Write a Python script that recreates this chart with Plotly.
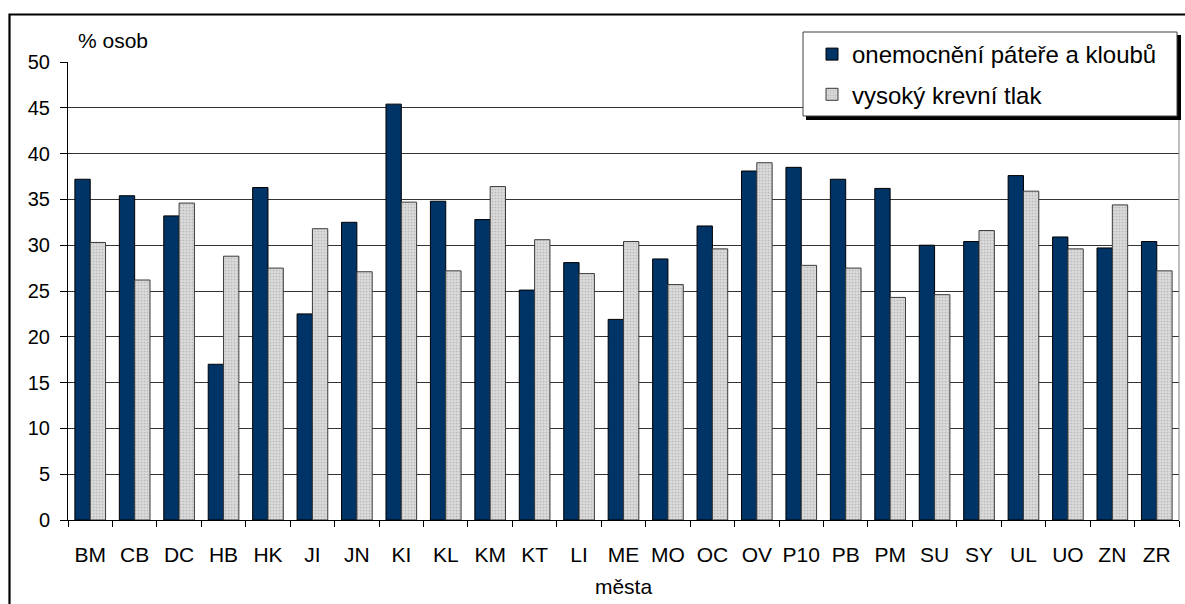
import plotly.graph_objects as go

# Cities (x categories)
mesta = ["BM", "CB", "DC", "HB", "HK", "JI", "JN", "KI", "KL", "KM", "KT", "LI", "ME",
         "MO", "OC", "OV", "P10", "PB", "PM", "SU", "SY", "UL", "UO", "ZN", "ZR"]

# Share of persons (%) by diagnosis
patere_klouby = [37.2, 35.4, 33.2, 17.0, 36.3, 22.5, 32.5, 45.4, 34.8, 32.8, 25.1, 28.1, 21.9,
                 28.5, 32.1, 38.1, 38.5, 37.2, 36.2, 30.0, 30.4, 37.6, 30.9, 29.7, 30.4]
krevni_tlak = [30.3, 26.2, 34.6, 28.8, 27.5, 31.8, 27.1, 34.7, 27.2, 36.4, 30.6, 26.9, 30.4,
               25.7, 29.6, 39.0, 27.8, 27.5, 24.3, 24.6, 31.6, 35.9, 29.6, 34.4, 27.2]

y_ticks = [0, 5, 10, 15, 20, 25, 30, 35, 40, 45, 50]

FONT = "Liberation Sans, Arial, sans-serif"
W, H = 1185, 604
L, R, T, B = 68, 6, 62, 84
PW, PH = W - L - R, H - T - B


def px(x):
    return (x - L) / PW


def py(y):
    return (H - B - y) / PH


fig = go.Figure()
fig.add_trace(go.Bar(
    x=mesta, y=patere_klouby, name="onemocnění páteře a kloubů",
    legendgroup="a",
    marker=dict(color="#003366", line=dict(color="#000000", width=1)),
))
fig.add_trace(go.Bar(
    x=mesta, y=krevni_tlak, name="vysoký krevní tlak",
    legendgroup="b",
    marker=dict(color="#d6d6d6", line=dict(color="#3a3a3a", width=1),
                pattern=dict(shape=".", fgcolor="#b8b8b8", bgcolor="#dadada",
                             size=3, solidity=0.25, fillmode="replace")),
))

shapes = [
    # right edge of the plot area
    dict(type="line", xref="paper", yref="paper", x0=1, x1=1, y0=0, y1=1,
         line=dict(color="#808080", width=1)),
    # legend frame with drop shadow
    dict(type="rect", xref="paper", yref="paper",
         x0=px(806), x1=px(1181), y0=py(120), y1=py(35),
         fillcolor="#000000", line=dict(width=0)),
    dict(type="rect", xref="paper", yref="paper",
         x0=px(803), x1=px(1177), y0=py(116), y1=py(32),
         fillcolor="#ffffff", line=dict(color="#404040", width=1)),
    # outer chart frame
    dict(type="rect", xref="paper", yref="paper",
         x0=px(9.5), x1=px(1200), y0=py(640), y1=py(14.5),
         fillcolor="rgba(0,0,0,0)", line=dict(color="#000000", width=2.2)),
]

fig.update_layout(
    width=W, height=H,
    margin=dict(l=L, r=R, t=T, b=B, pad=0),
    paper_bgcolor="#ffffff", plot_bgcolor="#ffffff",
    font=dict(family=FONT, size=20, color="#000000"),
    barmode="group", bargap=0.31, bargroupgap=0,
    showlegend=True,
    legend=dict(
        x=px(812), y=py(32), xanchor="left", yanchor="top",
        bgcolor="rgba(0,0,0,0)", borderwidth=0,
        font=dict(family=FONT, size=24, color="#000000"),
        tracegroupgap=6, traceorder="grouped",
    ),
    xaxis=dict(
        type="category", showgrid=False,
        showline=True, linecolor="#000000", linewidth=1,
        ticks="outside", ticklen=6, tickcolor="#000000", tickson="boundaries",
        tickfont=dict(family=FONT, size=21), tickangle=0, ticklabelstandoff=16,
        title=dict(text="města", font=dict(family=FONT, size=21), standoff=14),
        fixedrange=True,
    ),
    yaxis=dict(
        range=[0, 50], tickvals=y_ticks,
        showgrid=True, gridcolor="#333333", gridwidth=1,
        showline=True, linecolor="#000000", linewidth=1,
        ticks="outside", ticklen=7, tickcolor="#000000",
        tickfont=dict(family=FONT, size=20), ticklabelstandoff=6,
        zeroline=False, fixedrange=True,
    ),
    shapes=shapes,
    annotations=[dict(
        text="% osob", xref="paper", yref="paper",
        x=px(76), y=py(41), xanchor="left", yanchor="middle",
        showarrow=False, font=dict(family=FONT, size=21, color="#000000"),
    )],
)

fig.write_html("out.html")
